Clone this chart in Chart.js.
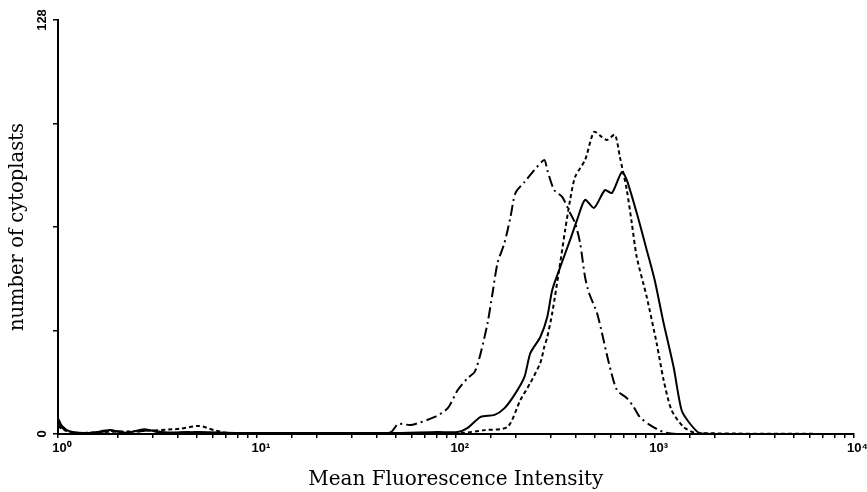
<!DOCTYPE html>
<html>
<head>
<meta charset="utf-8">
<script src="https://cdn.jsdelivr.net/npm/chart.js@4/dist/chart.umd.min.js"></script>
<style>
html,body{margin:0;padding:0;background:#fff;}
#wrap{width:867px;height:492px;}
</style>
</head>
<body>
<div id="wrap"><canvas id="c" width="867" height="492"></canvas></div>
<script>
// Dash-dot histogram (left peak)
const dashDotX = [1, 1.047, 1.122, 1.288, 1.622, 1.928, 2.291, 2.884, 3.631, 4.571, 5.754, 9.12, 16.22, 28.84, 40.74, 47.3, 51.3, 59.6, 78.5, 91.2, 102.3, 114.8, 124.5, 133.4, 144.5, 153.1, 162.2, 175.8, 188.4, 199.5, 221.3, 248.3, 278.6, 288.4, 312.6, 342.8, 375.8, 398.1, 421.7, 446.7, 467.7, 512.9, 543.3, 588.8, 645.7, 724.4, 785.2, 841.4, 944.1, 1109, 1288, 1622, 10000];
const dashDotY = [3.7, 1.9, 0.9, 0.3, 0.6, 1.0, 0.3, 1.2, 0.3, 0.6, 0.3, 0.3, 0, 0.3, 0.3, 0.6, 3.1, 2.8, 5.3, 8.0, 13.6, 17.3, 19.2, 25.0, 34.3, 43.6, 52.9, 59.1, 67.1, 74.5, 77.9, 81.6, 84.7, 81.6, 75.4, 73.3, 68.3, 65.2, 59.1, 48.5, 43.6, 37.4, 31.2, 21.9, 13.6, 11.1, 8.3, 5.3, 2.8, 0.6, 0, 0, 0];

// Solid histogram
const solidX = [1, 1.047, 1.148, 1.445, 1.82, 2.163, 2.723, 3.236, 5.129, 8.128, 16.22, 47.3, 81.3, 102.3, 114.8, 133.4, 156.7, 175.8, 197.2, 221.3, 237.1, 266.1, 288.4, 305.5, 335, 375.8, 407.4, 446.7, 495.5, 562.3, 609.5, 684, 724.4, 812.8, 912, 1000, 1109, 1245, 1365, 1496, 1679, 2042, 10000];
const solidY = [4.9, 2.5, 0.8, 0.3, 1.2, 0.3, 1.5, 0.5, 0.6, 0.3, 0.3, 0.3, 0.6, 0.6, 1.9, 5.3, 5.9, 8.0, 12.1, 17.6, 25.0, 30.0, 36.2, 44.5, 51.6, 60.0, 66.2, 72.4, 69.9, 75.4, 74.5, 81.0, 78.5, 68.3, 56.9, 47.6, 34.3, 20.7, 7.4, 3.4, 0.3, 0, 0];

// Dotted (short-dash) histogram
const dottedX = [1, 1.072, 1.216, 1.622, 2.57, 4.074, 5.129, 6.095, 7.244, 16.22, 64.6, 105.9, 139.6, 182, 211.3, 237.1, 266.1, 278.6, 288.4, 305.5, 335, 354.8, 375.8, 398.1, 446.7, 495.5, 543.3, 575.4, 631, 668.3, 724.4, 767.4, 812.8, 912, 1023, 1109, 1216, 1396, 1622, 10000];
const dottedY = [2.5, 1.2, 0.3, 0.6, 0.9, 1.6, 2.5, 1.2, 0.3, 0.3, 0.3, 0.3, 1.2, 2.2, 10.5, 15.8, 22.0, 26.9, 30.0, 37.4, 52.9, 63.1, 72.4, 79.5, 84.7, 93.4, 91.8, 90.9, 92.5, 85.7, 75.4, 65.2, 54.7, 42.4, 28.1, 16.7, 7.4, 2.2, 0.3, 0];

const yTickLabels = {0: '0', 128: '128'};
const xTickLabels = {1: '10\u2070', 10: '10\u00B9', 100: '10\u00B2', 1000: '10\u00B3', 10000: '10\u2074'};
const xTitle = 'Mean Fluorescence Intensity';
const yTitle = 'number of cytoplasts';

const toPts = (xs, ys) => xs.map((x, i) => ({x: x, y: ys[i]}));

const common = {pointRadius: 0, borderColor: '#000', borderWidth: 2, fill: false, tension: 0.25};

new Chart(document.getElementById('c'), {
  type: 'line',
  data: {
    datasets: [
      Object.assign({label: 'dash-dot', data: toPts(dashDotX, dashDotY), borderDash: [11, 4, 2, 4]}, common),
      Object.assign({label: 'solid', data: toPts(solidX, solidY)}, common),
      Object.assign({label: 'dotted', data: toPts(dottedX, dottedY), borderDash: [4, 3]}, common)
    ]
  },
  options: {
    responsive: false,
    animation: false,
    layout: {autoPadding: false, padding: {top: 20, right: 9, left: 0, bottom: 0}},
    plugins: {legend: {display: false}, tooltip: {enabled: false}},
    scales: {
      x: {
        type: 'logarithmic',
        min: 1, max: 10000,
        border: {color: '#000', width: 2},
        grid: {drawOnChartArea: false, drawTicks: true, tickLength: 4, color: '#000', lineWidth: 1.5},
        ticks: {
          autoSkip: false, maxRotation: 0, minRotation: 0, padding: 3, labelOffset: 4, color: '#000',
          font: {family: 'Liberation Sans', weight: 'bold', size: 13},
          callback: (v) => xTickLabels[v] !== undefined ? xTickLabels[v] : ''
        },
        title: {display: true, text: xTitle, color: '#000', font: {family: 'DejaVu Serif', size: 20}, padding: {top: 6, bottom: 0}},
        afterFit: (s) => { s.height = 58; }
      },
      y: {
        type: 'linear',
        min: 0, max: 128,
        border: {color: '#000', width: 2},
        grid: {drawOnChartArea: false, drawTicks: true, tickLength: 5, color: '#000', lineWidth: 1.5},
        ticks: {
          stepSize: 32, autoSkip: false, minRotation: 90, maxRotation: 90, padding: 0, crossAlign: 'center', color: '#000',
          font: {family: 'Liberation Sans', weight: 'bold', size: 13},
          callback: (v) => yTickLabels[v] !== undefined ? yTickLabels[v] : ''
        },
        title: {display: true, text: yTitle, color: '#000', font: {family: 'DejaVu Serif', size: 19.5}, padding: {top: 6, bottom: 0}},
        afterFit: (s) => { s.width = 58; }
      }
    }
  }
});
</script>
</body>
</html>
